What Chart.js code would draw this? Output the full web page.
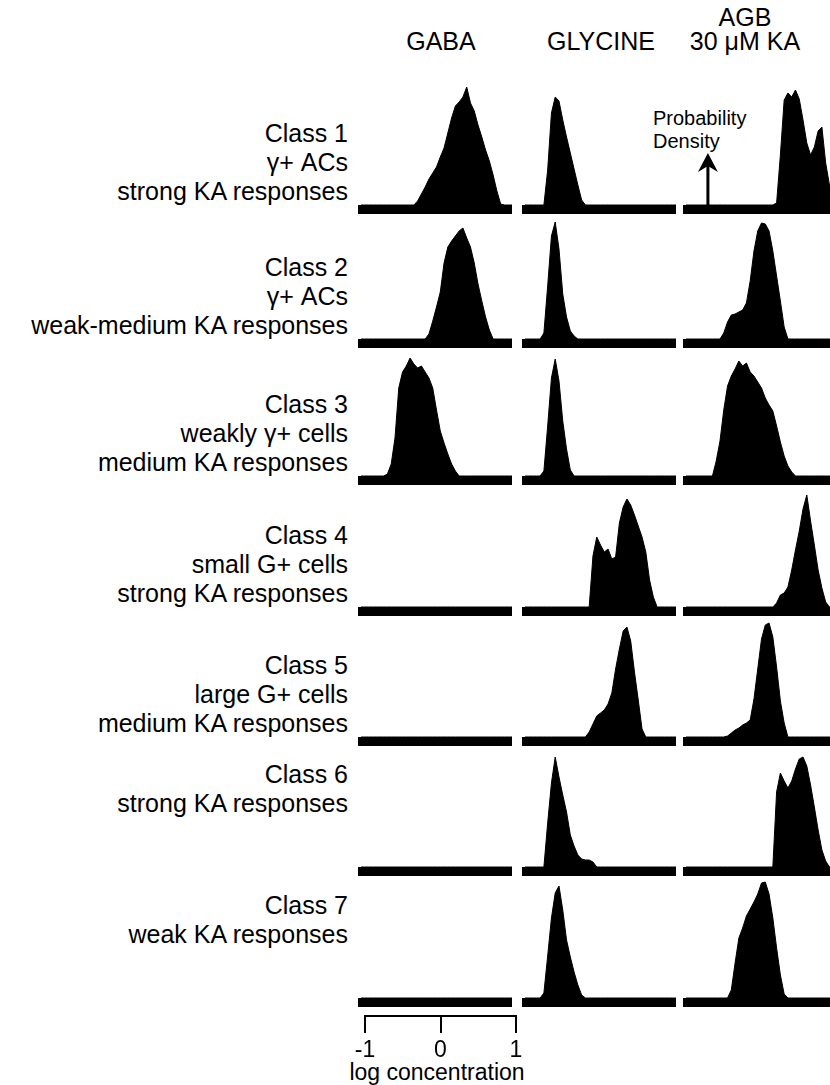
<!DOCTYPE html>
<html><head><meta charset="utf-8">
<script src="https://cdn.jsdelivr.net/npm/chart.js@4.4.1/dist/chart.umd.min.js"></script>
<style>
html,body{margin:0;padding:0;background:#fff;}
body{width:830px;height:1085px;position:relative;overflow:hidden;font-family:"Liberation Sans",Arial,Helvetica,sans-serif;color:#000;}
.lbl{position:absolute;left:0;width:348px;text-align:right;font-size:25px;line-height:29px;white-space:nowrap;}
.hdr{position:absolute;width:200px;text-align:center;font-size:25px;line-height:24px;white-space:nowrap;}
.note{position:absolute;font-size:20px;line-height:23px;white-space:nowrap;}
.axt{position:absolute;width:200px;text-align:center;font-size:23px;line-height:26px;white-space:nowrap;}
canvas{position:absolute;}
</style></head><body>
<script>
// ---- data: log concentration grid and probability densities (arbitrary units) ----
const xGrid = [-1.05,-1.00,-0.95,-0.90,-0.85,-0.80,-0.75,-0.70,-0.65,-0.60,-0.55,-0.50,-0.45,-0.40,-0.35,-0.30,-0.25,-0.20,-0.15,-0.10,-0.05,0.00,0.05,0.10,0.15,0.20,0.25,0.30,0.35,0.40,0.45,0.50,0.55,0.60,0.65,0.70,0.75,0.80,0.85,0.90,0.95];

const columnTitles = [['GABA'], ['GLYCINE'], ['AGB', '30 \u03BCM KA']];
const rowLabels = [
  ['Class 1', '\u03B3+ ACs', 'strong KA responses'],
  ['Class 2', '\u03B3+ ACs', 'weak-medium KA responses'],
  ['Class 3', 'weakly \u03B3+ cells', 'medium KA responses'],
  ['Class 4', 'small G+ cells', 'strong KA responses'],
  ['Class 5', 'large G+ cells', 'medium KA responses'],
  ['Class 6', 'strong KA responses'],
  ['Class 7', 'weak KA responses']
];

const gaba1 = [0,0,0,0,0,0,0,0,0,0, 0,0,0,0,0, 4,11,18,26,32,38,48,57,72,87,99,103,108,118,102,94,80,68,55,44,30,14,1,0,0,0];
const gaba2 = [0,0,0,0,0,0,0,0,0,0, 0,0,0,0,0,0,0,0, 5,18,32,47,76,92,98,103,108,111,101,92,76,55,38,22,9, 0,0,0,0,0,0];
const gaba3 = [0,0,0,0,0,0,0, 2,12,38,88,104,110,118,112,108,110,104,98,88,66,45,33,22,12,5, 0,0,0,0,0,0,0,0,0,0, 0,0,0,0,0];
const gaba4 = [0,0,0,0,0,0,0,0,0,0, 0,0,0,0,0,0,0,0,0,0, 0,0,0,0,0,0,0,0,0,0, 0,0,0,0,0,0,0,0,0,0, 0];
const gaba5 = [0,0,0,0,0,0,0,0,0,0, 0,0,0,0,0,0,0,0,0,0, 0,0,0,0,0,0,0,0,0,0, 0,0,0,0,0,0,0,0,0,0, 0];
const gaba6 = [0,0,0,0,0,0,0,0,0,0, 0,0,0,0,0,0,0,0,0,0, 0,0,0,0,0,0,0,0,0,0, 0,0,0,0,0,0,0,0,0,0, 0];
const gaba7 = [0,0,0,0,0,0,0,0,0,0, 0,0,0,0,0,0,0,0,0,0, 0,0,0,0,0,0,0,0,0,0, 0,0,0,0,0,0,0,0,0,0, 0];

const gly1 = [0,0,0,0,0,0, 35,92,108,104,85,68,52,36,20,5, 0,0,0,0,0,0,0,0,0,0, 0,0,0,0,0,0,0,0,0,0, 0,0,0,0,0];
const gly2 = [0,0,0,0,0, 6,53,103,117,90,45,22,8,3, 0,0,0,0,0,0,0,0,0,0, 0,0,0,0,0,0,0,0,0,0, 0,0,0,0,0,0,0];
const gly3 = [0,0,0,0,0, 5,50,98,117,95,55,27,6, 0,0,0,0,0,0,0,0,0,0, 0,0,0,0,0,0,0,0,0,0, 0,0,0,0,0,0,0,0];
const gly4 = [0,0,0,0,0,0,0,0,0,0, 0,0,0,0,0,0,0,0, 51,70,62,55,58,48,50,84,100,108,102,92,81,70,55,27,10, 0,0,0,0,0,0];
const gly5 = [0,0,0,0,0,0,0,0,0,0, 0,0,0,0,0,0,0, 5,13,21,24,27,33,44,68,88,106,110,96,65,37,8, 0,0,0,0,0,0,0,0,0];
const gly6 = [0,0,0,0,0,0, 44,84,110,90,72,55,32,21,12,8,7,7,5, 0,0,0,0,0,0,0,0,0,0, 0,0,0,0,0,0,0,0,0,0, 0,0];
const gly7 = [0,0,0,0,0, 5,42,80,105,112,88,58,41,26,13,3, 0,0,0,0,0,0,0,0,0,0, 0,0,0,0,0,0,0,0,0,0, 0,0,0,0,0];

const agb1 = [0,0,0,0,0,0,0,0,0,0, 0,0,0,0,0,0,0,0,0,0, 0,0,0,0, 2,50,105,112,108,115,106,85,62,50,58,74,78,42,20,5,0];
const agb2 = [0,0,0,0,0,0,0,0,0,0, 6,17,24,25,27,29,36,58,88,108,116,115,108,88,63,38,12, 0,0,0,0,0,0,0,0,0,0, 0,0,0,0];
const agb3 = [0,0,0,0,0,0,0,0, 15,35,66,90,100,107,115,110,113,104,100,94,88,78,71,65,50,34,20,10,4, 0,0,0,0,0,0,0,0,0,0, 0,0];
const agb4 = [0,0,0,0,0,0,0,0,0,0, 0,0,0,0,0,0,0,0,0,0, 0,0,0,0, 4,12,14,20,37,57,76,98,112,86,62,37,19,5, 0,0,0];
const agb5 = [0,0,0,0,0,0,0,0,0,0, 0, 1,4,7,9,12,14,17,38,68,98,112,114,100,70,36,14, 0,0,0,0,0,0,0,0,0,0, 0,0,0,0];
const agb6 = [0,0,0,0,0,0,0,0,0,0, 0,0,0,0,0,0,0,0,0,0, 0,0,0,0, 75,94,86,79,86,98,108,110,101,82,60,37,17,6, 0,0,0];
const agb7 = [0,0,0,0,0,0,0,0,0,0, 0,0, 8,35,60,70,82,89,96,104,115,116,104,80,50,23,4, 0,0,0,0,0,0,0,0,0,0, 0,0,0,0];

const scaleTicks = [-1, 0, 1];
const scaleTitle = 'log concentration';
const densityArrow = { x: -0.76, tip: 52, headBase: 35 };

const panels = [
  [gaba1, gly1, agb1],
  [gaba2, gly2, agb2],
  [gaba3, gly3, agb3],
  [gaba4, gly4, agb4],
  [gaba5, gly5, agb5],
  [gaba6, gly6, agb6],
  [gaba7, gly7, agb7]
];

// ---- layout ----
const X_MIN = -1.09, X_MAX = 0.95, Y_MAX = 125;
const colLeft = [358, 522, 683];
const rowBar = [205, 339, 476, 607, 737, 867, 998];
const PW = 154, AREA = 125, PH = 136, BAR = 9;
const colCenter = [441, 601, 745];

function addDiv(cls, left, top, lines) {
  const d = document.createElement('div');
  d.className = cls;
  d.style.left = left + 'px';
  d.style.top = top + 'px';
  d.innerHTML = lines.map(s => s.replace(/&/g,'&amp;').replace(/</g,'&lt;')).join('<br>');
  document.body.appendChild(d);
}

columnTitles.forEach((t, c) => {
  const top = t.length === 2 ? 5 : 29;
  addDiv('hdr', colCenter[c] - 100, top, t);
});

rowLabels.forEach((lines, r) => {
  const top = lines.length === 3 ? rowBar[r] - 86 : rowBar[r] - 107;
  addDiv('lbl', 0, top, lines);
});

addDiv('note', 653, 107, ['Probability', 'Density']);
addDiv('axt', 337, 1059, [scaleTitle]);

const baselineBar = {
  id: 'baselineBar',
  beforeDatasetsDraw(chart) {
    const { ctx, chartArea, scales } = chart;
    const y0 = scales.y.getPixelForValue(0);
    ctx.save();
    ctx.fillStyle = '#000';
    ctx.fillRect(chartArea.left, y0, chartArea.right - chartArea.left, BAR);
    ctx.restore();
  }
};

const arrowPlugin = {
  id: 'arrowPlugin',
  afterDatasetsDraw(chart) {
    const { ctx, scales } = chart;
    const px = scales.x.getPixelForValue(densityArrow.x);
    const yb = scales.y.getPixelForValue(0);
    const yt = scales.y.getPixelForValue(densityArrow.tip);
    const yh = scales.y.getPixelForValue(densityArrow.headBase);
    ctx.save();
    ctx.fillStyle = '#000';
    ctx.fillRect(px - 1.5, yh - 4, 3, yb - yh + 4);
    ctx.beginPath();
    ctx.moveTo(px, yt);
    ctx.lineTo(px + 10, yh + 2);
    ctx.lineTo(px, yh - 4);
    ctx.lineTo(px - 10, yh + 2);
    ctx.closePath();
    ctx.fill();
    ctx.restore();
  }
};

function makeCanvas(left, top, w, h) {
  const cv = document.createElement('canvas');
  cv.width = w; cv.height = h;
  cv.style.left = left + 'px';
  cv.style.top = top + 'px';
  cv.style.width = w + 'px';
  cv.style.height = h + 'px';
  document.body.appendChild(cv);
  return cv;
}

panels.forEach((row, r) => {
  row.forEach((vals, c) => {
    const cv = makeCanvas(colLeft[c], rowBar[r] - AREA, PW, PH);
    new Chart(cv, {
      type: 'line',
      data: {
        datasets: [{
          data: vals.map((v, i) => ({ x: xGrid[i], y: v })),
          fill: 'origin',
          backgroundColor: '#000',
          borderColor: '#000',
          borderWidth: 1,
          pointRadius: 0,
          tension: 0
        }]
      },
      options: {
        responsive: false,
        animation: false,
        events: [],
        layout: { padding: { left: 0, right: 0, top: 0, bottom: PH - AREA } },
        plugins: { legend: { display: false }, tooltip: { enabled: false } },
        scales: {
          x: { type: 'linear', min: X_MIN, max: X_MAX, display: false },
          y: { min: 0, max: Y_MAX, display: false }
        }
      },
      plugins: (r === 0 && c === 2) ? [baselineBar, arrowPlugin] : [baselineBar]
    });
  });
});

// scale bar (log concentration axis for GABA column)
const scv = makeCanvas(345, 970, 191, 96);
new Chart(scv, {
  type: 'line',
  data: { datasets: [] },
  options: {
    responsive: false,
    animation: false,
    events: [],
    layout: { padding: { left: 20, right: 20, top: 0, bottom: 0 } },
    plugins: { legend: { display: false }, tooltip: { enabled: false } },
    scales: {
      y: { display: false, min: 0, max: 1 },
      x: {
        type: 'linear', position: 'bottom', min: -1, max: 1,
        afterBuildTicks: (s) => { s.ticks = scaleTicks.map(v => ({ value: v })); },
        afterFit: (s) => { s.height = 50; },
        ticks: { color: '#000', padding: 6, maxRotation: 0, autoSkip: false,
                 font: { family: '"Liberation Sans", Arial, sans-serif', size: 23, lineHeight: 1 },
                 callback: (v) => String(v) },
        grid: { display: true, drawOnChartArea: false, drawTicks: true, tickLength: 17, color: '#000', lineWidth: 2 },
        border: { display: true, color: '#000', width: 2 }
      }
    }
  }
});
</script>
</body></html>
